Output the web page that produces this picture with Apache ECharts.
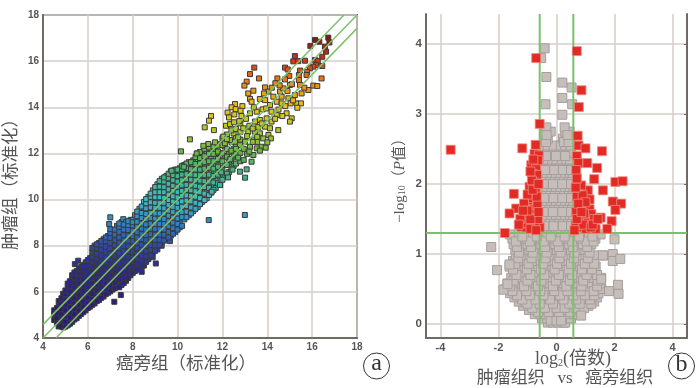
<!DOCTYPE html>
<html><head><meta charset="utf-8">
<style>html,body{margin:0;background:#fff}#c{width:700px;height:388px}</style>
<script src="https://cdn.jsdelivr.net/npm/echarts@6/dist/echarts.min.js"></script>
</head><body><div id="c"></div>
<script>
// Panel a: dense band, one entry per column: [x, y, y, y ...]
const bandColumns = [
[4.5,4.78,5.02,5.2],
[4.7,4.5,4.72,4.94,5.15,5.38,5.6],
[4.9,4.46,4.66,4.9,5.1,5.34,5.55,5.78,5.92],
[5.1,4.55,4.78,5.0,5.24,5.46,5.7,5.92,6.15,6.36],
[5.3,4.7,4.92,5.16,5.38,5.62,5.84,6.08,6.3,6.54,6.72],
[5.42,7.2],
[5.5,4.86,5.08,5.3,5.54,5.76,6.0,6.22,6.46,6.68,6.9],
[5.57,7.35],
[5.7,5.04,5.28,5.5,5.74,5.96,6.2,6.42,6.66,6.88,7.08],
[5.9,5.2,5.42,5.66,5.88,6.12,6.34,6.58,6.8,7.04,7.28],
[6.1,5.36,5.6,5.82,6.06,6.28,6.52,6.74,6.98,7.2,7.46],
[6.3,5.5,5.74,5.96,6.2,6.42,6.66,6.88,7.12,7.34,7.58,7.8,8.0],
[6.5,5.65,5.9,6.12,6.36,6.58,6.82,7.04,7.28,7.5,7.74,7.96,8.12],
[6.7,5.8,6.04,6.26,6.5,6.72,6.96,7.18,7.42,7.64,7.88,8.1,8.28],
[6.9,5.96,6.2,6.42,6.66,6.88,7.12,7.34,7.58,7.8,8.04,8.26,8.42],
[6.95,8.94],[7.0,9.23],
[7.1,6.1,6.34,6.56,6.8,7.02,7.26,7.48,7.72,7.94,8.18,8.4,8.68],
[7.18,5.57],
[7.3,6.22,6.46,6.7,6.92,7.16,7.38,7.62,7.84,8.08,8.3,8.54,8.86],
[7.47,5.86],
[7.5,6.3,6.54,6.78,7.0,7.24,7.46,7.7,7.92,8.16,8.38,8.62,8.84,9.02],
[7.58,9.15],
[7.7,6.48,6.72,6.94,7.18,7.4,7.64,7.86,8.1,8.32,8.56,8.78,9.02],
[7.9,6.72,6.96,7.18,7.42,7.64,7.88,8.1,8.34,8.56,8.8,9.04,9.12],
[8.1,6.9,7.12,7.36,7.58,7.82,8.04,8.28,8.5,8.74,8.96,9.2,9.32],
[8.3,7.0,7.28,7.5,7.74,7.96,8.2,8.42,8.66,8.88,9.12,9.34,9.6],
[8.4,6.87],
[8.5,7.14,7.42,7.66,7.88,8.12,8.34,8.58,8.8,9.04,9.26,9.5,9.72,9.9],
[8.7,7.42,7.66,7.88,8.12,8.34,8.58,8.8,9.04,9.26,9.5,9.72,9.96,10.12],
[8.89,7.5],
[8.9,7.72,7.96,8.2,8.42,8.66,8.88,9.12,9.34,9.58,9.8,10.04,10.26,10.4],
[9.03,7.23],
[9.1,7.84,8.08,8.3,8.54,8.76,9.0,9.22,9.46,9.68,9.92,10.14,10.38,10.66],
[9.29,8.0],
[9.3,8.16,8.4,8.62,8.86,9.08,9.32,9.54,9.78,10.0,10.24,10.46,10.72,10.9],
[9.5,8.3,8.54,8.76,9.0,9.22,9.46,9.68,9.92,10.14,10.38,10.6,10.84,11.02],
[9.66,8.2],
[9.7,8.44,8.68,8.92,9.14,9.38,9.6,9.84,10.06,10.3,10.52,10.76,10.98,11.22],
[9.9,8.6,8.84,9.06,9.3,9.52,9.76,9.98,10.22,10.44,10.68,10.9,11.14,11.3],
[10.1,8.8,9.04,9.28,9.5,9.74,9.96,10.2,10.42,10.66,10.88,11.12,11.36],
[10.3,9.14,9.4,9.62,9.86,10.08,10.32,10.54,10.78,11.0,11.24,11.5],
[10.5,9.32,9.58,9.84,10.06,10.3,10.52,10.76,10.98,11.22,11.44,11.62],
[10.7,9.5,9.76,10.02,10.26,10.5,10.74,10.96,11.2,11.42,11.7],
[10.9,9.68,9.96,10.2,10.46,10.7,10.94,11.16,11.4,11.66,12.0],
[11.1,9.9,10.14,10.42,10.66,10.92,11.18,11.44,11.68,11.94],
[11.3,10.06,10.36,10.64,10.9,11.2,11.5,11.76,12.08],
[11.5,10.3,10.6,10.88,11.24,11.52,11.84,12.18],
[11.7,10.5,10.84,11.16,11.48,11.8,12.1],
[11.9,10.63,11.0,11.36,11.7,12.02,12.4],
[12.1,11.05,11.5,11.9,12.3],
[12.3,11.2,11.62,12.06],
[12.5,11.46,11.86,12.2,12.86]
];
// Panel a: columns between the ones above
const bandColumnsBetween = [
[4.62,4.64,4.86,5.08,5.3],
[4.82,4.5,4.8,5.02,5.26,5.48,5.72],
[5.0,4.5,4.7,4.96,5.2,5.44,5.66,5.9,6.06],
[5.2,4.62,4.88,5.1,5.34,5.56,5.8,6.02,6.26,6.46],
[5.4,4.8,5.02,5.26,5.48,5.72,5.94,6.18,6.4,6.62,6.84],
[5.6,4.96,5.18,5.42,5.64,5.88,6.1,6.34,6.56,6.8,7.0],
[5.8,5.12,5.36,5.58,5.82,6.04,6.28,6.5,6.74,6.96,7.16],
[6.0,5.3,5.52,5.76,5.98,6.22,6.44,6.68,6.9,7.14,7.38],
[6.2,5.44,5.68,5.9,6.14,6.36,6.6,6.82,7.06,7.28,7.52,7.72,7.9],
[6.4,5.6,5.82,6.06,6.28,6.52,6.74,6.98,7.2,7.44,7.66,7.9,8.06],
[6.6,5.74,5.98,6.2,6.44,6.66,6.9,7.12,7.36,7.58,7.82,8.04,8.2],
[6.8,5.9,6.12,6.36,6.58,6.82,7.04,7.28,7.5,7.74,7.96,8.2,8.36],
[7.0,6.02,6.28,6.5,6.74,6.96,7.2,7.42,7.66,7.88,8.12,8.34,8.56,8.72],
[7.2,6.16,6.4,6.64,6.86,7.1,7.32,7.56,7.78,8.02,8.24,8.48,8.7],
[7.4,6.2,6.52,6.76,6.98,7.22,7.44,7.68,7.9,8.14,8.36,8.6,8.82,8.96],
[7.6,6.38,6.62,6.86,7.08,7.32,7.54,7.78,8.0,8.24,8.46,8.7,8.92],
[7.8,6.6,6.84,7.06,7.3,7.52,7.76,7.98,8.22,8.44,8.68,8.9,9.06],
[8.0,6.82,7.04,7.28,7.5,7.74,7.96,8.2,8.42,8.66,8.88,9.12,9.02],
[8.2,6.96,7.2,7.44,7.66,7.9,8.12,8.36,8.58,8.82,9.04,9.28,9.48],
[8.4,7.1,7.36,7.58,7.82,8.04,8.28,8.5,8.74,8.96,9.2,9.42,9.7],
[8.6,7.3,7.54,7.78,8.0,8.24,8.46,8.7,8.92,9.16,9.38,9.62,9.84,10.02],
[8.8,7.58,7.82,8.04,8.28,8.5,8.74,8.96,9.2,9.42,9.66,9.88,10.12,10.26],
[9.0,7.78,8.02,8.26,8.48,8.72,8.94,9.18,9.4,9.64,9.86,10.1,10.32,10.54],
[9.2,8.02,8.26,8.48,8.72,8.94,9.18,9.4,9.64,9.86,10.1,10.32,10.56,10.8],
[9.4,8.22,8.48,8.7,8.94,9.16,9.4,9.62,9.86,10.08,10.32,10.54,10.78,10.96],
[9.6,8.36,8.6,8.84,9.06,9.3,9.52,9.76,9.98,10.22,10.44,10.68,10.92,11.12],
[9.8,8.52,8.76,9.0,9.22,9.46,9.68,9.92,10.14,10.38,10.6,10.84,11.06,11.26],
[10.0,8.7,8.94,9.18,9.4,9.64,9.86,10.1,10.32,10.56,10.78,11.02,11.3],
[10.2,8.86,9.24,9.46,9.7,9.92,10.16,10.38,10.62,10.84,11.08,11.32,11.46],
[10.4,9.24,9.48,9.72,9.96,10.18,10.42,10.64,10.88,11.1,11.36,11.56],
[10.6,9.4,9.66,9.92,10.16,10.4,10.62,10.86,11.08,11.32,11.62],
[10.8,9.6,9.86,10.12,10.36,10.6,10.84,11.06,11.3,11.54,11.84],
[11.0,9.8,10.06,10.32,10.56,10.82,11.06,11.3,11.56,11.8,12.06],
[11.2,9.98,10.26,10.54,10.8,11.06,11.34,11.62,11.88,12.2],
[11.4,10.2,10.5,10.78,11.08,11.38,11.66,11.98,12.26],
[11.6,10.42,10.74,11.02,11.34,11.66,11.98,12.3],
[11.8,10.7,11.08,11.42,11.76,12.08,12.34],
[12.0,10.86,11.26,11.66,12.0,12.36,12.66],
[12.2,11.12,11.5,11.86,12.2,12.82],
[12.4,11.34,11.74,12.12,12.5,13.0],
[12.6,11.56,11.96,12.3,12.66,13.06],
[12.8,11.66,12.02,12.6,12.94,13.3]
];
// Panel a: scattered points [x, y]
const sparsePoints = [
[16.72,17.02],[16.13,16.92],[16.32,16.84],[16.77,16.81],[15.92,16.66],[16.57,16.63],[16.62,16.41],[15.23,16.22],[16.45,16.19],[16.13,16.05],
[16.25,16.0],[15.16,15.99],[15.38,16.0],[15.68,16.02],[16.17,15.83],[16.05,15.76],[16.45,15.79],[15.9,15.69],[14.79,15.72],[14.91,15.64],
[15.46,15.59],[15.78,15.54],[13.42,15.72],[13.23,15.44],[14.45,15.25],[14.98,15.36],[14.79,15.21],[15.41,15.4],[15.41,15.18],[15.75,15.4],
[16.42,15.25],[16.05,14.94],[16.23,14.92],[13.63,15.25],[13.08,15.11],[12.98,14.94],[13.9,14.86],[13.15,14.6],[13.38,14.72],[13.23,14.36],
[13.3,14.24],[13.67,14.36],[14.36,15.04],[14.05,14.68],[14.57,14.68],[14.71,14.82],[15.01,14.97],[15.46,14.97],[15.83,14.75],[15.53,14.6],
[15.23,14.53],[14.94,14.39],[14.64,14.46],[14.27,14.46],[13.9,14.31],[14.42,14.24],[14.12,14.1],[15.31,14.17],[15.5,14.17],[15.04,14.17],
[14.64,14.17],[15.34,13.98],[12.56,14.14],[12.41,14.0],[12.89,14.05],[12.59,13.92],[12.81,13.85],[12.23,13.77],[12.53,13.69],[11.49,13.62],
[12.29,13.56],[11.4,13.42],[11.21,13.13],[11.62,13.01],[12.16,13.2],[12.34,13.27],[12.52,13.35],[13.53,13.81],[13.79,13.91],[13.23,13.74],
[14.19,13.81],[14.42,13.66],[14.86,13.74],[14.67,13.62],[15.09,13.52],[15.01,13.38],[14.49,13.01],[13.97,13.52],[13.67,13.45],[14.19,13.38],
[13.45,13.38],[13.9,13.16],[14.12,13.09],[12.93,13.09],[13.15,12.94],[13.45,12.94],[13.67,12.87],[14.05,12.8],[13.82,12.65],[14.16,12.65],
[13.75,12.29],[13.93,12.25],[13.53,12.22],[13.67,12.12],[13.38,11.93],[13.23,12.29],[13.01,12.51],[12.78,12.36],[12.56,12.51],[12.34,12.58],
[12.04,12.73],[12.11,12.44],[11.67,12.48],[11.37,12.41],[11.15,12.33],[13.3,11.64],[12.78,11.21],[13.01,10.95],[13.08,11.31],[11.89,10.63],
[11.52,10.34],[10.55,12.61],[10.15,12.09],[9.73,11.25],[10.85,12.0],[10.28,11.42],[13.0,9.33],[11.39,9.11],[12.2,12.62],[12.7,12.7],
[12.95,12.2],[12.7,11.82],[12.95,11.72],[13.1,11.98],[12.45,11.3],[12.25,10.96],[11.95,11.18],[13.4,12.6],[13.55,12.5],[14.0,12.48],
[13.2,13.2],[13.35,13.08],[13.6,13.15],[13.75,13.3],[14.35,13.5],[13.05,13.5],[12.75,13.4],[12.85,13.62],[13.4,14.0],[13.95,13.95],
[14.5,13.9],[14.8,14.05],[15.15,14.3],[15.65,14.85],[15.1,15.0],[14.9,14.7],[14.55,14.95],[14.2,14.85],[13.85,14.6],[13.1,12.75],[13.35,12.5],
[13.55,12.72],[13.2,12.08],[12.6,12.2],[12.35,11.75]
];
const foldLineUpper = [[4,4.58],[17.42,18]];
const foldLineMiddle = [[4,4],[18,18]];
const foldLineLower = [[4.58,4],[18,17.42]];
const ticksA = [4,6,8,10,12,14,16,18];

// Panel b: grey points, one entry per row: [y, x, x, x ...]
const greyRows = [
[0.02,-0.3,-0.12,0.06,0.24,0.3],
[0.08,-0.5,-0.32,-0.14,0.05,0.22,0.38,0.5],
[0.14,-0.75,-0.55,-0.36,-0.18,0.02,0.2,0.41,0.6,0.75],
[0.2,-0.95,-0.74,-0.52,-0.3,-0.08,0.12,0.34,0.55,0.72,0.85],
[0.26,-1.15,-0.94,-0.7,-0.5,-0.26,-0.04,0.2,0.4,0.62,0.86,1.1],
[0.32,-1.3,-1.08,-0.85,-0.62,-0.4,-0.16,0.06,0.3,0.52,0.76,0.98,1.3],
[0.38,-1.45,-1.2,-0.98,-0.74,-0.52,-0.28,-0.06,0.18,0.4,0.64,0.86,1.1,1.4],
[0.44,-1.6,-1.34,-1.1,-0.86,-0.62,-0.4,-0.16,0.08,0.3,0.54,0.78,1.0,1.24,1.45],
[0.5,-1.75,-1.46,-1.22,-0.98,-0.74,-0.5,-0.28,-0.04,0.2,0.44,0.66,0.9,1.14,1.36,1.55],
[0.58,-1.69,-1.44,-1.18,-0.94,-0.7,-0.46,-0.22,0.02,0.26,0.5,0.74,0.98,1.22,1.5],
[0.66,-1.56,-1.32,-1.08,-0.84,-0.6,-0.36,-0.12,0.12,0.36,0.6,0.84,1.08,1.3,1.54],
[0.74,-1.45,-1.2,-0.96,-0.72,-0.48,-0.24,0.0,0.24,0.48,0.72,0.96,1.3],
[0.82,-1.62,-1.36,-1.1,-0.86,-0.62,-0.38,-0.14,0.1,0.34,0.58,0.82,1.06,1.35],
[0.9,-1.5,-1.26,-1.02,-0.78,-0.54,-0.3,-0.06,0.18,0.42,0.66,0.9,1.2],
[0.98,-1.4,-1.16,-0.92,-0.68,-0.44,-0.2,0.04,0.28,0.52,0.76,1.0,1.3,1.6],
[1.06,-1.42,-1.18,-0.94,-0.7,-0.46,-0.22,0.02,0.26,0.5,0.74,1.0],
[1.14,-1.48,-1.24,-1.0,-0.76,-0.52,-0.28,-0.04,0.2,0.44,0.68,0.92,1.2],
[1.22,-1.52,-1.26,-1.02,-0.78,-0.54,-0.3,-0.06,0.18,0.42,0.66,0.9,1.14,1.34],
[1.28,-1.6,-1.3,-1.04,-0.8,-0.56,-0.32,-0.08,0.16,0.4,0.64,0.88,1.12,1.52],
[1.36,-0.5,-0.34,-0.18,-0.02,0.14,0.3,0.46,0.56],
[1.46,-0.56,-0.4,-0.24,-0.08,0.08,0.24,0.4,0.54],
[1.56,-0.5,-0.34,-0.18,-0.02,0.14,0.3,0.46,0.58],
[1.66,-0.56,-0.4,-0.24,-0.08,0.08,0.24,0.4,0.54],
[1.76,-0.5,-0.34,-0.18,-0.02,0.14,0.3,0.46,0.58],
[1.86,-0.54,-0.38,-0.22,-0.06,0.1,0.26,0.42,0.56],
[1.96,-0.5,-0.34,-0.18,-0.02,0.14,0.3,0.46,0.58],
[2.06,-0.54,-0.38,-0.22,-0.06,0.1,0.26,0.42,0.52],
[2.16,-0.5,-0.34,-0.18,-0.02,0.14,0.3,0.46,0.56],
[2.26,-0.46,-0.33,-0.18,-0.03,0.12,0.28,0.44,0.55],
[2.35,-0.45,-0.3,-0.15,0.0,0.18,0.34,0.46],
[2.45,-0.45,-0.28,-0.12,0.08,0.24,0.4,0.5],
[2.55,-0.47,-0.3,-0.1,0.15,0.3,0.48],
[2.65,-0.42,-0.3,0.22,0.35,0.5],
[2.75,-0.4,-0.2,0.3,0.45],
[2.81,-0.35,0.28],
[2.99,0.2],[3.14,-0.38,0.54],[3.23,0.2],[3.38,0.52],[3.45,0.2],[3.53,-0.35],[3.8,-0.53],[3.94,-0.41]
];
// Panel b: a further scatter of grey points over the rows above
const greyRowsUpper = [
[0.05,-0.2,0.0,0.16],
[0.17,-0.63,-0.27,0.09,0.48],
[0.23,-0.83,-0.4,0.0,0.28,0.66,0.95],
[0.29,-1.0,-0.58,-0.12,0.44,0.8,1.2],
[0.35,-1.18,-0.72,-0.22,0.24,0.68,1.16],
[0.41,-1.36,-0.92,-0.45,0.12,0.58,0.98,1.3],
[0.47,-1.52,-1.04,-0.56,-0.08,0.38,0.84,1.28],
[0.54,-1.6,-1.12,-0.64,-0.12,0.34,0.86,1.4],
[0.62,-1.48,-1.0,-0.52,-0.02,0.46,0.92,1.42],
[0.7,-1.38,-0.9,-0.42,0.08,0.54,1.04,1.4],
[0.78,-1.5,-1.02,-0.54,-0.06,0.42,0.88,1.22],
[0.86,-1.42,-0.96,-0.46,0.02,0.5,0.98,1.3],
[0.94,-1.32,-0.86,-0.38,0.1,0.6,1.08],
[1.02,-1.3,-0.82,-0.34,0.14,0.62,1.14],
[1.1,-1.36,-0.88,-0.4,0.08,0.56,1.06],
[1.18,-1.4,-0.92,-0.44,0.04,0.54,1.04,1.28],
[1.25,-1.18,-0.68,-0.2,0.28,0.78,1.24],
[1.4,-0.42,-0.1,0.22,0.5],
[1.6,-0.44,-0.12,0.2,0.5],
[1.8,-0.42,-0.1,0.2,0.5],
[2.0,-0.44,-0.12,0.2,0.5],
[2.2,-0.4,-0.08,0.22,0.5],
[2.4,-0.36,-0.02,0.3],
[2.6,-0.36,0.26,0.42],
[2.7,0.38,-0.34]
];
const greyOutliers = [[-2.25,1.1],[-2.05,0.77],[-1.83,0.49],[-1.62,0.85],[-1.69,0.57],[1.94,1.0],[1.6,0.98],[1.94,0.9],[2.2,0.93],[2.12,0.56],[1.81,0.47],[2.14,0.43],[1.54,0.64],[0.85,0.12],[2.0,1.21]];
const redPoints = [
[-0.7,3.8],[-0.58,2.86],[-3.65,2.49],[-1.18,2.51],[-0.72,2.56],[-0.76,2.43],[-0.61,2.41],[-0.87,2.27],[-0.7,2.25],[-0.81,2.14],
[-0.67,2.13],[-0.72,2.02],[-0.93,1.96],[-0.72,1.91],[-1.47,1.86],[-0.76,1.81],[-0.98,1.74],[-0.76,1.64],[-1.39,1.65],[-1.62,1.58],
[-1.1,1.53],[-0.81,1.52],[-1.21,1.39],[-1.04,1.38],[-0.58,1.38],[-0.76,1.43],[-1.78,1.3],[-0.92,1.64],[-1.08,1.64],[-0.86,1.8],
[-1.0,1.44],[-1.25,1.5],[-0.66,1.7],[-0.9,1.36],[-0.64,1.5],[-0.85,2.05],[-0.9,2.18],[-0.64,2.34],[-0.8,2.35],[-1.0,1.85],
[-1.12,1.72],[-0.68,1.82],[-0.9,1.5],[-1.0,1.62],[-1.3,1.42],[-0.7,1.34],[-0.62,1.6],[-0.82,1.92],[-0.62,2.0],[-1.15,1.62],
[0.7,3.9],[0.86,3.34],[0.77,3.1],[0.73,2.69],[0.76,2.55],[1.0,2.51],[1.57,2.47],[1.06,2.3],[1.4,2.23],[1.3,2.07],
[2.03,2.03],[2.28,2.04],[1.6,1.91],[1.08,1.91],[0.85,1.98],[0.7,2.4],[0.75,2.3],[0.68,2.2],[1.94,1.75],[2.23,1.72],
[2.03,1.63],[1.52,1.52],[1.9,1.47],[1.75,1.36],[1.35,1.36],[1.14,1.78],[0.85,1.69],[1.14,1.64],[1.2,1.57],[0.8,1.52],
[1.08,1.45],[0.8,1.38],[1.02,1.36],[1.3,1.5],[0.7,1.82],[0.9,1.84],[0.66,1.95],[0.68,1.6],[0.66,1.42],[0.95,1.58],[1.0,1.74],
[0.75,1.72],[0.92,1.42],[1.18,1.38],[0.7,1.5],[0.62,1.34],[0.86,1.6],[0.7,2.08],[1.25,1.42],[1.42,1.5]
];
const foldX = 0.58;
const significanceY = 1.3;
const ticksBX = [-4,-2,0,2,4];
const ticksBY = [0,1,2,3,4];

const pointsA = [];
bandColumns.concat(bandColumnsBetween).forEach(c => c.slice(1).forEach(y => pointsA.push([c[0], y])));
sparsePoints.forEach(p => pointsA.push(p));
const pointsGrey = [];
greyRows.concat(greyRowsUpper).forEach(r => r.slice(1).forEach(x => pointsGrey.push([x, r[0]])));
greyOutliers.forEach(p => pointsGrey.push(p));

const AXC = '#6f6a66', GRID = '#d6cec9', GREEN = '#7cc06c', TXT = '#555';
const SERIF = '"Liberation Serif","Noto Sans CJK SC",serif';
const CJK = '"Liberation Serif","Noto Sans CJK SC",sans-serif';
const tickLabel = (size, vals) => ({customValues: vals, fontFamily: '"Liberation Sans",sans-serif', fontSize: size, fontWeight: 'bold', color: TXT, margin: 4, showMinLabel: true, showMaxLabel: true});
const mkAxis = (o, vals, size) => Object.assign({
  type: 'value', axisLine: {show: true, onZero: false, lineStyle: {color: AXC, width: 2}},
  axisTick: {show: false, customValues: vals},
  axisLabel: tickLabel(size, vals),
  splitLine: {show: true, lineStyle: {color: GRID, width: 1.5}}
}, o);
const guide = (data, xi, yi, z) => ({type: 'line', xAxisIndex: xi, yAxisIndex: yi, data, showSymbol: false, symbol: 'none', silent: true, z,
  lineStyle: {color: GREEN, width: xi ? 2 : 1.5}, animation: false});

const chart = echarts.init(document.getElementById('c'), null, {renderer: 'canvas'});
chart.setOption({
  animation: false,
  backgroundColor: '#fff',
  grid: [
    {left: 43, top: 15, width: 314, height: 323, show: true, borderColor: AXC, borderWidth: 2, backgroundColor: 'transparent'},
    {left: 426, top: 14, width: 261, height: 324}
  ],
  xAxis: [
    mkAxis({gridIndex: 0, min: 4, max: 18}, ticksA, 10),
    mkAxis({gridIndex: 1, min: -4.5, max: 4.5}, ticksBX, 11)
  ],
  yAxis: [
    mkAxis({gridIndex: 0, min: 4, max: 18}, ticksA, 10),
    mkAxis({gridIndex: 1, min: -0.2, max: 4.43}, ticksBY, 11.5),
    mkAxis({gridIndex: 1, min: -0.2, max: 4.43, position: 'right', axisLabel: {show: false},
      axisTick: {show: true, inside: true, length: 3, customValues: ticksBY, lineStyle: {color: AXC}}, splitLine: {show: false}}, ticksBY, 11)
  ],
  visualMap: {
    show: false, type: 'continuous', seriesIndex: 0, dimension: 1, min: 4, max: 17,
    inRange: {color: ['#2a1a78','#2a1a78','#2b2080','#2c2a8c','#2f4aa6','#2f86c4','#3cbcc4','#3fb48c','#62b548','#b4c828','#ecc414','#ec8c12','#e0301a','#8a1414']}
  },
  series: [
    {type: 'scatter', xAxisIndex: 0, yAxisIndex: 0, data: pointsA, symbol: 'rect', symbolSize: 5, z: 3,
      itemStyle: {borderColor: '#3a3a3a', borderWidth: 1, opacity: 1}},
    guide(foldLineUpper, 0, 0, 4), guide(foldLineMiddle, 0, 0, 4), guide(foldLineLower, 0, 0, 4),
    {type: 'scatter', xAxisIndex: 1, yAxisIndex: 1, data: pointsGrey, symbol: 'rect', symbolSize: 9, z: 3,
      itemStyle: {color: '#c6bebb', borderColor: '#a69e9b', borderWidth: 1, opacity: 1}},
    guide([[-foldX,-0.2],[-foldX,4.43]], 1, 1, 4), guide([[foldX,-0.2],[foldX,4.43]], 1, 1, 4),
    guide([[-4.5,significanceY],[4.5,significanceY]], 1, 1, 4),
    {type: 'scatter', xAxisIndex: 1, yAxisIndex: 1, data: redPoints, symbol: 'rect', symbolSize: 9, z: 5,
      itemStyle: {color: '#e32b26', borderColor: '#ee8a80', borderWidth: 0.8, opacity: 1}}
  ],
  graphic: [
    {type: 'text', x: 11, y: 180, rotation: Math.PI / 2, z: 10,
      style: {text: '肿瘤组（标准化）', font: '17.5px ' + CJK, fill: TXT, align: 'center', verticalAlign: 'middle'}},
    {type: 'text', x: 186, y: 364, z: 10,
      style: {text: '癌旁组（标准化）', font: '17.5px ' + CJK, fill: TXT, align: 'center', verticalAlign: 'middle'}},
    {type: 'text', x: 400, y: 177, rotation: Math.PI / 2, z: 10,
      style: {text: '−log{sub|10}（{it|P}值）', font: '15px ' + SERIF, fill: TXT, align: 'center', verticalAlign: 'middle',
        rich: {sub: {font: '10px ' + SERIF, fill: TXT, verticalAlign: 'bottom'}, it: {font: 'italic 15px ' + SERIF, fill: TXT}}}},
    {type: 'text', x: 573, y: 359, z: 10,
      style: {text: 'log{sub|2}(倍数)', font: '18px ' + SERIF, fill: TXT, align: 'center', verticalAlign: 'middle',
        rich: {sub: {font: '10px ' + SERIF, fill: TXT, verticalAlign: 'bottom'}}}},
    {type: 'text', x: 565, y: 379, z: 10,
      style: {text: '肿瘤组织   vs   癌旁组织', font: '17px ' + CJK, fill: TXT, align: 'center', verticalAlign: 'middle'}},
    {type: 'circle', shape: {cx: 376.5, cy: 366, r: 13}, style: {fill: 'none', stroke: '#333', lineWidth: 1}, z: 10},
    {type: 'text', x: 376.5, y: 364, z: 10, style: {text: 'a', font: '24px ' + SERIF, fill: '#333', align: 'center', verticalAlign: 'middle'}},
    {type: 'circle', shape: {cx: 681.5, cy: 366, r: 13}, style: {fill: 'none', stroke: '#333', lineWidth: 1}, z: 10},
    {type: 'text', x: 681.5, y: 365, z: 10, style: {text: 'b', font: '24px ' + SERIF, fill: '#333', align: 'center', verticalAlign: 'middle'}}
  ]
});
</script></body></html>
